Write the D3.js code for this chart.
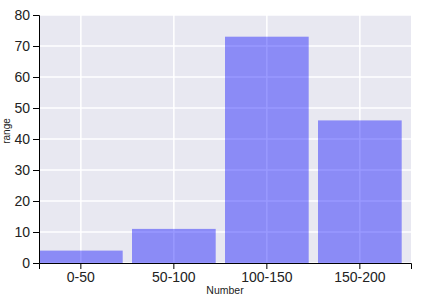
<!DOCTYPE html>
<html>
<head>
<meta charset="utf-8">
<script src="https://cdn.jsdelivr.net/npm/d3@7"></script>
<style>
  body { margin: 0; background: #fff; }
  text { font-family: "Liberation Sans", Arial, sans-serif; }
</style>
</head>
<body>
<svg id="chart" width="431" height="299"></svg>
<script>
// bins and counts
const categories = ["0-50", "50-100", "100-150", "150-200"];
const counts = [4, 11, 73, 46];
const yTicks = [0, 10, 20, 30, 40, 50, 60, 70, 80];

var svg = d3.select("svg#chart");

const margin = {top: 15, right: 20, bottom: 36, left: 39};
const width = 431 - margin.left - margin.right,
      height = 299 - margin.top - margin.bottom;

var data = categories.map((c, i) => ({cat: c, value: counts[i]}));

var x = d3.scaleBand()
    .domain(categories)
    .range([0, width])
    .paddingInner(0.1)
    .paddingOuter(0.05)
    .align(0);

var y = d3.scaleLinear()
    .domain([0, 80])
    .range([height, 0]);

var g = svg.append("g")
    .attr("transform", "translate(" + margin.left + "," + margin.top + ")");

// plot background
g.append("rect")
    .attr("width", width)
    .attr("height", height)
    .style("fill", "#e8e8f1");

// white grid lines
g.append("g").selectAll("line.h")
    .data(yTicks)
    .enter().append("line")
    .attr("x1", 0).attr("x2", width)
    .attr("y1", d => y(d)).attr("y2", d => y(d))
    .style("stroke", "#fff").style("stroke-width", 1.5);

g.append("g").selectAll("line.v")
    .data(categories)
    .enter().append("line")
    .attr("x1", d => x(d) + x.bandwidth() / 2).attr("x2", d => x(d) + x.bandwidth() / 2)
    .attr("y1", 0).attr("y2", height)
    .style("stroke", "#fff").style("stroke-width", 1.5);

// bars
g.append("g").selectAll("rect")
    .data(data)
    .enter().append("rect")
    .attr("x", d => x(d.cat))
    .attr("width", x.bandwidth())
    .attr("y", d => y(d.value))
    .attr("height", d => height - y(d.value))
    .style("fill", "rgba(0,0,255,0.4)");

// axes
g.append("g")
    .attr("transform", "translate(0," + height + ")")
    .call(d3.axisBottom(x).tickSizeOuter(6))
    .call(a => a.selectAll("text").style("font-size", "14px").style("fill", "#222"));

g.append("g")
    .call(d3.axisLeft(y).tickValues(yTicks).tickSizeOuter(6))
    .call(a => a.selectAll("text").style("font-size", "14px").style("fill", "#222"));

// axis titles
svg.append("text")
    .attr("text-anchor", "middle")
    .attr("x", margin.left + width / 2)
    .attr("y", 294)
    .style("font-size", "10.5px")
    .style("fill", "#222")
    .text("Number");

svg.append("text")
    .attr("text-anchor", "middle")
    .attr("transform", "translate(10," + 131 + ") rotate(-90)")
    .style("font-size", "10px")
    .style("fill", "#222")
    .text("range");
</script>
</body>
</html>
